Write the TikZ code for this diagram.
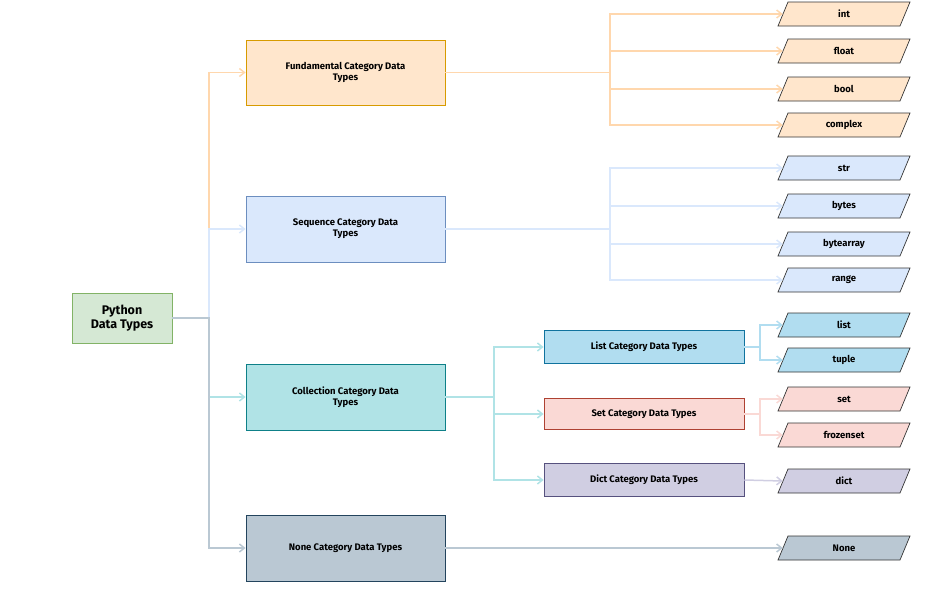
\documentclass[tikz,border=0pt]{standalone}
\usepackage{fontspec}
\setmainfont{Fira Sans}
\usetikzlibrary{arrows.meta}
\definecolor{gF}{HTML}{D5E8D4}\definecolor{gD}{HTML}{82B366}
\definecolor{oF}{HTML}{FFE6CC}\definecolor{oD}{HTML}{D79B00}
\definecolor{bF}{HTML}{DAE8FC}\definecolor{bD}{HTML}{6C8EBF}
\definecolor{cF}{HTML}{B0E3E6}\definecolor{cD}{HTML}{0E8088}
\definecolor{nF}{HTML}{BAC8D3}\definecolor{nD}{HTML}{23445D}
\definecolor{lF}{HTML}{B1DDF0}\definecolor{lD}{HTML}{10739E}
\definecolor{sF}{HTML}{FAD9D5}\definecolor{sD}{HTML}{AE4132}
\definecolor{dF}{HTML}{D0CEE2}\definecolor{dD}{HTML}{56517E}
\newcommand{\myleaf}[4]{%
  \filldraw[fill=#4,draw=black!80,line width=0.7pt] (778,-#2-12) -- (900,-#2-12) -- (910,-#2+12) -- (788,-#2+12) -- cycle;
  \node[leaf] (#1) at (844,-#2) {#3};}
\begin{document}
\begin{tikzpicture}[x=1pt,y=1pt,
  box/.style={draw,line width=0.8pt,minimum width=199pt,inner sep=2pt,align=center,font=\fontsize{9.5}{11}\selectfont\bfseries},
  sub/.style={draw,line width=0.8pt,minimum width=200pt,minimum height=33pt,inner sep=2pt,font=\fontsize{9.5}{11}\selectfont\bfseries},
  leaf/.style={minimum width=122pt,minimum height=24pt,inner sep=0pt,font=\fontsize{9.5}{11}\selectfont\bfseries},
  con/.style={line width=1.5pt,-{Straight Barb[length=5pt,width=8pt]}}]
\useasboundingbox (0,0) rectangle (929,-592);
\node[box,fill=gF,draw=gD,minimum width=100pt,minimum height=50pt,font=\fontsize{12.5}{14}\selectfont\bfseries] (root) at (122,-318) {Python\\Data Types};
\node[box,fill=oF,draw=oD,minimum height=65pt] (fund) at (345.5,-72.5) {Fundamental Category Data\\Types};
\node[box,fill=bF,draw=bD,minimum height=66pt] (seq) at (345.5,-229) {Sequence Category Data\\Types};
\node[box,fill=cF,draw=cD,minimum height=66pt] (coll) at (345.5,-397) {Collection Category Data\\Types};
\node[box,fill=nF,draw=nD,minimum height=66pt] (none) at (345.5,-548) {None Category Data Types};
\node[sub,fill=lF,draw=lD] (list) at (644,-347) {List Category Data Types};
\node[sub,fill=sF,draw=sD,minimum height=31pt] (set) at (644,-414) {Set Category Data Types};
\node[sub,fill=dF,draw=dD] (dict) at (644,-480) {Dict Category Data Types};
\myleaf{int}{14}{int}{oF}
\myleaf{float}{51}{float}{oF}
\myleaf{bool}{89}{bool}{oF}
\myleaf{complex}{125}{complex}{oF}
\myleaf{str}{168}{str}{bF}
\myleaf{bytes}{206}{bytes}{bF}
\myleaf{bytearray}{244}{bytearray}{bF}
\myleaf{range}{280}{range}{bF}
\myleaf{lst}{325}{list}{lF}
\myleaf{tuple}{360}{tuple}{lF}
\myleaf{sset}{399}{set}{sF}
\myleaf{frozenset}{435}{frozenset}{sF}
\myleaf{dct}{481}{dict}{dF}
\myleaf{nn}{548}{None}{nF}
% root to categories
\draw[con,draw=oF!85!orange] (root.east) -- (209,-318) |- (fund.west);
\draw[con,draw=bF] (root.east) -- (209,-318) |- (seq.west);
\draw[con,draw=cF] (root.east) -- (209,-318) |- (coll.west);
\draw[con,draw=nF] (root.east) -- (209,-318) |- (none.west);
\draw[line width=1.5pt,draw=nF] (root.east) -- (209,-318);
% fund
\foreach \t in {int,float,bool,complex}
  \draw[con,draw=oF!85!orange] (fund.east) -- (610,-72.5) |- (\t.west);
\foreach \t in {str,bytes,bytearray,range}
  \draw[con,draw=bF] (seq.east) -- (610,-229) |- (\t.west);
\foreach \t in {list,set,dict}
  \draw[con,draw=cF] (coll.east) -- (494,-397) |- (\t.west);
\foreach \t in {lst,tuple}
  \draw[con,draw=lF] (list.east) -- (760,-347) |- (\t.west);
\foreach \t in {sset,frozenset}
  \draw[con,draw=sF] (set.east) -- (760,-414) |- (\t.west);
\draw[con,draw=dF] (dict.east) -- (dct.west);
\draw[con,draw=nF] (none.east) -- (nn.west);
\end{tikzpicture}
\end{document}
